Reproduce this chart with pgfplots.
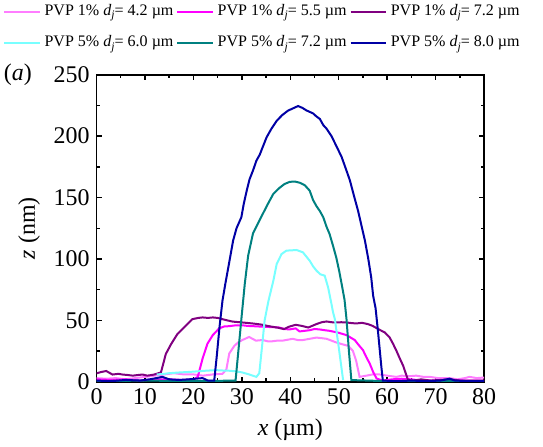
\documentclass[border=0pt]{standalone}
\usepackage{fontspec}
\setmainfont{Liberation Serif}
\usepackage{pgfplots}
\pgfplotsset{compat=1.18}

\definecolor{cPink}{RGB}{255,125,255}
\definecolor{cMag}{RGB}{255,0,255}
\definecolor{cPur}{RGB}{128,0,128}
\definecolor{cCyan}{RGB}{120,255,255}
\definecolor{cTeal}{RGB}{0,128,128}
\definecolor{cNavy}{RGB}{0,0,165}

\newcommand{\dsubj}{\textit{d}\raisebox{-0.45ex}{\fontsize{5.8}{6}\selectfont\textit{j}}}

\begin{document}
\begin{tikzpicture}
\begin{axis}[
    scale only axis,
    width=193.75bp, height=153.5bp,
    xmin=0, xmax=80, ymin=0, ymax=250,
    xtick distance=10, ytick distance=50,
    minor tick num=1,
    major tick length=2.6bp, minor tick length=1.7bp,
    tick style={line width=0.7bp, black},
    axis line style={line width=0.8bp},
    /pgf/number format/assume math mode=true,
    ticklabel style={font=\fontsize{12}{14}\selectfont},
    label style={font=\fontsize{12}{14}\selectfont},
    xlabel={\textit{x} (µm)},
    ylabel={\textit{z} (nm)},
    every axis plot/.append style={line width=1bp},
    legend columns=3,
    legend style={draw=none, fill=none, inner sep=0pt,
        nodes={inner sep=0pt},
        at={(axis description cs:0.4258,1.230)}, anchor=north,
        font=\fontsize{8.05}{9}\selectfont, row sep=8.5bp,
        /tikz/every odd column/.append style={column sep=2bp},
        /tikz/every even column/.append style={column sep=1.5bp}},
    legend image code/.code={\draw[#1] (0cm,0cm) -- (0.62cm,0cm);},
]
\addplot[cPink] coordinates {(0,3) (2,2.5) (4,3) (6,2) (8,3) (10,4) (12,5) (14,6) (16,7) (18,6) (20,6) (22,5) (24,6) (26,6.5) (26.8,10) (27.4,23) (28.4,29) (29.2,32) (30.1,34) (31.5,36.5) (32.9,33.5) (34.3,34) (35.3,33) (36.3,33) (37.3,33.5) (38.4,33.5) (40.5,35) (41.5,34) (42.6,34) (44,35) (45.4,36) (46.5,35.5) (47.5,35) (48.5,33.5) (49.5,32) (50.8,30.5) (51.9,29.3) (52.9,25.3) (53.6,17) (54.3,4) (55.7,5) (57,6) (58.4,6) (60,5) (61.9,4) (63,5) (64.5,4.5) (66,5) (67.5,4) (68.8,4) (70.5,3) (72.9,3) (74.5,2) (76,3) (77,4) (78.5,3) (80,3.5)};
\addlegendentry{PVP 1\% \dsubj= 4.2 µm}
\addplot[cMag] coordinates {(0,2) (3,1.5) (6,2) (9,1) (12,2) (15,2) (18,1.5) (20,2) (20.9,4) (21.9,19) (22.9,31) (24,38) (25.3,43.4) (26.3,45) (27.4,45.3) (28.8,46) (30.1,46) (31.2,45.5) (32.2,45.3) (33.6,45) (35,44.7) (36.4,44.5) (37.7,44.2) (38.8,43) (39.8,42.6) (41.1,43.5) (41.9,41) (43,41.5) (44,42) (45,43) (46.1,42.6) (47.1,42) (48.1,41.5) (49.9,40) (51.6,38) (53.3,34) (54.1,30) (55,25.8) (55.7,20) (56.4,14.8) (57.1,8) (57.8,2.7) (59,1) (61,2) (63,2.5) (65,2) (67,1) (70,1) (73,1.5) (76,1) (80,1)};
\addlegendentry{PVP 1\% \dsubj= 5.5 µm}
\addplot[cPur] coordinates {(0,6.9) (1,8) (2,8.8) (3.3,5.9) (4.5,6.5) (5.4,5.9) (6.5,5.5) (7.5,5) (8.5,5.5) (9.5,5.9) (10.5,5) (11.9,5.9) (13.3,7.6) (13.8,15) (14.3,22.6) (15.4,30.7) (16.7,38.9) (18.1,44.3) (19.8,51) (21,52) (21.9,52.4) (23,52) (24,52.4) (25,52) (26,51) (27,50) (28.1,49) (30.1,48.3) (32.2,47.5) (33.2,47) (34.3,46.4) (35.3,45.5) (36.3,44.8) (37.5,44) (38.7,42.9) (39.7,44.8) (41.1,46.4) (42.4,45.5) (43.7,44.2) (44.5,45.5) (45.4,47) (46.5,48.5) (47.5,49.1) (48.5,48.5) (49.5,48.3) (50.5,48.5) (51.6,48.3) (52.6,47.8) (53.6,47.5) (54.8,48) (56,47) (57,45.5) (57.8,43.7) (58.6,42) (59.5,40.2) (60.5,36.1) (61.2,31) (61.9,25.3) (62.6,19) (63.3,13) (64.3,1.4) (65.5,1) (67,2) (69,1) (71,1.5) (73,2) (75,1) (77,1) (80,1)};
\addlegendentry{PVP 1\% \dsubj= 7.2 µm}
\addplot[cCyan] coordinates {(12.4,6) (13.6,6.3) (15,7) (17.1,7.6) (19,8) (20.5,8.4) (22.5,9) (24.6,9.5) (26,9.2) (27.4,9) (28.8,8.5) (30.1,7.6) (31.5,6) (33,4) (33.6,7) (34.2,30) (34.7,50) (35.5,66) (36.5,82.3) (37.2,96) (38.2,104) (39.2,106.8) (40.2,107) (41.3,107.3) (42.6,105.4) (43.3,102) (44,98.6) (44.7,94) (45.4,90.5) (46.2,87.5) (47.1,86.4) (47.8,76.9) (48.5,63.3) (48.8,57) (49.2,51) (50,28) (50.9,1.4)};
\addlegendentry{PVP 5\% \dsubj= 6.0 µm}
\addplot[cTeal] coordinates {(0,0.5) (10,1) (20,0.5) (28.7,1) (29.4,30) (29.9,51) (30.6,79.6) (31.3,102.7) (32.3,120.8) (33.2,128) (34.1,135) (35.4,145) (36.5,153) (37.8,158) (38.8,161) (39.9,162.8) (41,163) (42,162) (43,160) (44,155.6) (44.7,148) (45.4,143) (46.1,139) (46.8,134) (47.5,126) (48.1,120.4) (48.8,111) (49.5,101) (50.1,90) (50.6,79.6) (51.2,66.6) (51.6,51) (52.1,25) (52.6,1.4) (60,0.5) (80,0.5)};
\addlegendentry{PVP 5\% \dsubj= 7.2 µm}
\addplot[cNavy] coordinates {(0,1) (3,0.5) (6,1.5) (9,1) (11,2) (13.6,4) (15,2) (17,1.5) (19,2) (21.9,3) (23,1) (24.3,1) (24.8,20) (25.4,45) (26,66) (26.6,80) (27.2,93) (27.7,104) (28.2,115) (28.9,125) (29.9,134) (30.4,145) (31,155.5) (31.6,165) (32.3,172) (33,180) (33.7,185) (34.4,192) (35.1,199) (36.1,206) (37.2,212.5) (38.3,217) (39.5,220.7) (40.5,222.5) (41.6,224.5) (42.5,223) (43.3,221) (44.7,218.5) (45.4,216) (46.1,214) (46.8,209) (47.5,206) (48.5,200) (49.5,192) (50.6,183) (51.5,173) (52.3,164) (53.1,152) (54,139) (54.7,127) (55.4,115) (56.1,100) (56.7,85) (57.1,70) (57.6,60) (58.1,41) (58.8,12) (59.1,1) (62,0.5) (65,1) (68,0.5) (71,1) (72.9,2.5) (74,1) (77,0.5) (80,0.5)};
\addlegendentry{PVP 5\% \dsubj= 8.0 µm}
\coordinate (lab) at (rel axis cs:-0.203,0.999);
\coordinate (bl) at (rel axis cs:-0.249,-0.2094);
\coordinate (tr) at (rel axis cs:1.152,1.2433);
\end{axis}
\node[font=\fontsize{12}{14}\selectfont] at (lab) {(\textit{a})};
\pgfresetboundingbox
\path[use as bounding box] (bl) rectangle (tr);
\end{tikzpicture}
\end{document}
